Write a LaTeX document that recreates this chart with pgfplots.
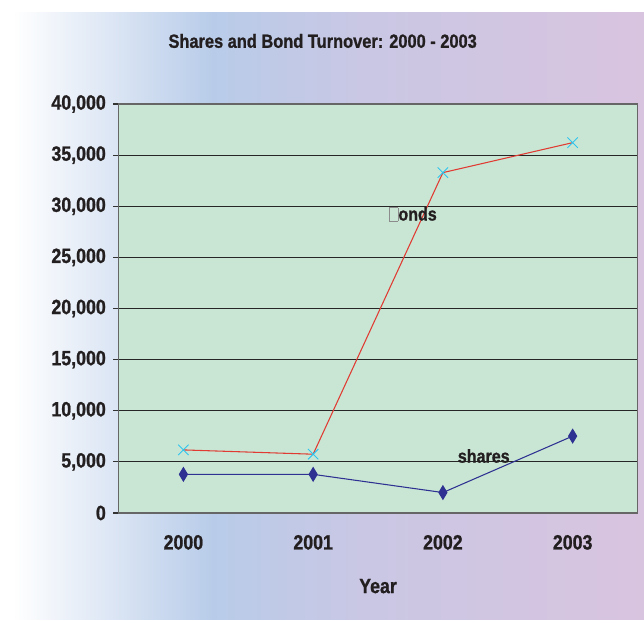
\documentclass[border=0pt]{standalone}
\usepackage{fontspec}
\setmainfont{Liberation Sans}[FakeStretch=0.86, BoldFeatures={FakeBold=1}]
\usepackage{pgfplots}
\pgfplotsset{compat=1.18}

\definecolor{plotbg}{HTML}{C9E6D4}
\definecolor{bgblue}{HTML}{B8CCE9}
\definecolor{bglav}{HTML}{C9C7E4}
\definecolor{bgpink}{HTML}{D9C4E0}
\definecolor{txt}{HTML}{231F20}
\definecolor{bondline}{HTML}{E03A32}
\definecolor{bondmark}{HTML}{2EC4EE}
\definecolor{shareblue}{HTML}{2E3192}

% the path is mapped onto 25bp..75bp of the shading
\pgfdeclarehorizontalshading{bgshade}{100bp}{color(0bp)=(white); color(26bp)=(white); color(41.5bp)=(bgblue); color(53bp)=(bglav); color(75bp)=(bgpink); color(100bp)=(bgpink)}

\begin{document}
\begin{tikzpicture}
\path[use as bounding box] (0,0) rectangle (483pt,464.25pt);
\shade[shading=bgshade] (0,0) rectangle (483pt,454.5pt);

\node[font=\bfseries\fontsize{14.3}{16}\selectfont, text=txt] at (242pt,433.5pt) {Shares and Bond Turnover: 2000 - 2003};

\begin{axis}[
    at={(88.9pt,79.5pt)}, anchor=south west,
    width=389.25pt, height=306.75pt, scale only axis,
    axis background/.style={fill=plotbg},
    axis line style={draw=black!60, line width=0.8pt},
    xmin=-0.5, xmax=3.5,
    ymin=0, ymax=40000,
    xtick={0,1,2,3},
    xticklabels={2000,2001,2002,2003},
    minor xtick={-0.5,0.5,1.5,2.5,3.5},
    ytick distance=5000,
    scaled y ticks=false,
    yticklabel={\pgfmathprintnumber[1000 sep={,}]{\tick}},
    /pgf/number format/assume math mode=true,
    tick align=outside,
    xtick style={draw=none},
    minor tick length=5pt,
    major tick length=4pt,
    minor tick style={draw=black!65, line width=0.8pt},
    ytick style={draw=black!80, line width=0.8pt},
    xtick pos=bottom, ytick pos=left,
    ymajorgrids,
    grid style={black!85, line width=0.75pt},
    tick label style={font=\bfseries\fontsize{15.5}{17}\selectfont, text=txt},
    xticklabel style={yshift=-9pt},
    yticklabel style={xshift=-2pt},
    xlabel={Year},
    xlabel style={font=\bfseries\fontsize{15.5}{17}\selectfont, text=txt, yshift=-15pt},
    clip=false,
  ]
  % Bonds
  \addplot[color=bondline, line width=0.8pt, mark=x, mark size=5.5pt,
    mark options={draw=bondmark, line width=0.7pt}] coordinates {
    (0, 6170) (1, 5750) (2, 33290) (3, 36220)
  };
  % Shares
  \addplot[color=shareblue, line width=0.8pt, mark=diamond*, mark size=4pt,
    mark options={fill=shareblue, draw=shareblue, yscale=1.25}] coordinates {
    (0, 3780) (1, 3780) (2, 2000) (3, 7520)
  };

  \node[font=\bfseries\fontsize{14}{16}\selectfont, text=txt] at (axis cs:1.77,29240)
    {{\color{black!45}\setlength{\fboxsep}{0pt}\setlength{\fboxrule}{0.4pt}\fbox{\rule{0pt}{9.5pt}\hspace{6pt}}}onds};
  \node[font=\bfseries\fontsize{14}{16}\selectfont, text=txt] at (axis cs:2.315,5575) {shares};
\end{axis}
\end{tikzpicture}
\end{document}
